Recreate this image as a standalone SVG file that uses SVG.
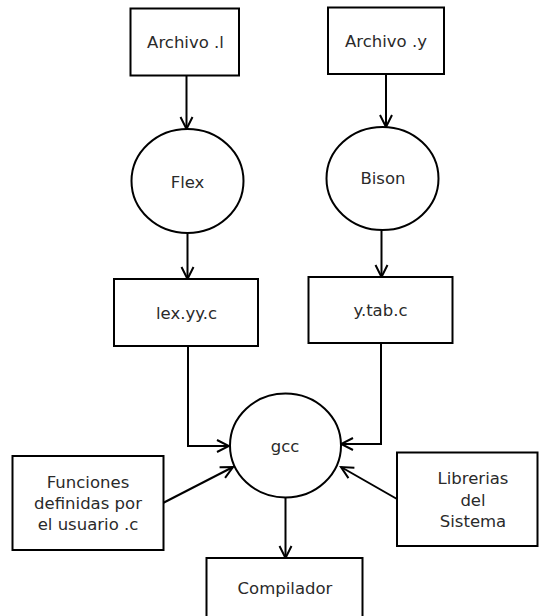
<svg xmlns="http://www.w3.org/2000/svg" width="539" height="616" viewBox="0 0 539 616">
<style>
.box{fill:#fff;stroke:#000;stroke-width:2}
.node ellipse{fill:#fff;stroke:#000;stroke-width:2}
.lbl{font-family:"DejaVu Sans",sans-serif;font-size:16.5px;fill:#2a2a2a;text-anchor:middle;dominant-baseline:central}
.edge{fill:none;stroke:#000;stroke-width:2;marker-end:url(#arr)}
</style>
<defs>
<marker id="arr" markerUnits="userSpaceOnUse" viewBox="-14 -8 16 16" refX="0" refY="0" markerWidth="16" markerHeight="16" orient="auto">
<path d="M-12,-6 L0,0 L-12,6" fill="none" stroke="#000" stroke-width="2"/>
</marker>
</defs>
<rect width="539" height="616" fill="#fff"/>
<g id="connectors">
<path class="edge" d="M186.5,76 L186.5,129"/>
<path class="edge" d="M386,74 L386,127"/>
<path class="edge" d="M187.5,233 L187.5,279"/>
<path class="edge" d="M381.5,230 L381.5,277"/>
<path class="edge" d="M188,346 L188,446 L229,446"/>
<path class="edge" d="M381,343 L381,444 L341,444"/>
<path class="edge" d="M163,503 L233,467"/>
<path class="edge" d="M397,499 L341,467"/>
<path class="edge" d="M285.5,497 L285.5,558"/>
</g>
<g id="archivo_l" class="node"><rect class="box" x="130.5" y="8.5" width="108.5" height="67"/><text class="lbl" x="185.5" y="42">Archivo .l</text></g>
<g id="archivo_y" class="node"><rect class="box" x="328" y="7.5" width="116" height="66.5"/><text class="lbl" x="386" y="41">Archivo .y</text></g>
<g id="flex" class="node"><ellipse cx="187.5" cy="181" rx="56" ry="52"/><text class="lbl" x="187.5" y="182">Flex</text></g>
<g id="bison" class="node"><ellipse cx="382.5" cy="178.5" rx="56" ry="51.5"/><text class="lbl" x="383" y="178.5">Bison</text></g>
<g id="lexyy" class="node"><rect class="box" x="114" y="279" width="144" height="67"/><text class="lbl" x="186.5" y="313">lex.yy.c</text></g>
<g id="ytab" class="node"><rect class="box" x="308.5" y="277" width="144" height="66"/><text class="lbl" x="380.5" y="310.5">y.tab.c</text></g>
<g id="gcc" class="node"><ellipse cx="285.5" cy="445.5" rx="55.5" ry="52"/><text class="lbl" x="285" y="446">gcc</text></g>
<g id="funciones" class="node"><rect class="box" x="12.5" y="456" width="151" height="94"/><text class="lbl" x="88" y="482">Funciones</text><text class="lbl" x="88" y="503">definidas por</text><text class="lbl" x="88" y="524">el usuario .c</text></g>
<g id="librerias" class="node"><rect class="box" x="397" y="452.5" width="140.5" height="93.5"/><text class="lbl" x="473" y="478">Librerias</text><text class="lbl" x="473" y="500">del</text><text class="lbl" x="473" y="521">Sistema</text></g>
<g id="compilador" class="node"><rect class="box" x="206.5" y="558" width="156" height="70"/><text class="lbl" x="285" y="588.5">Compilador</text></g>
</svg>
